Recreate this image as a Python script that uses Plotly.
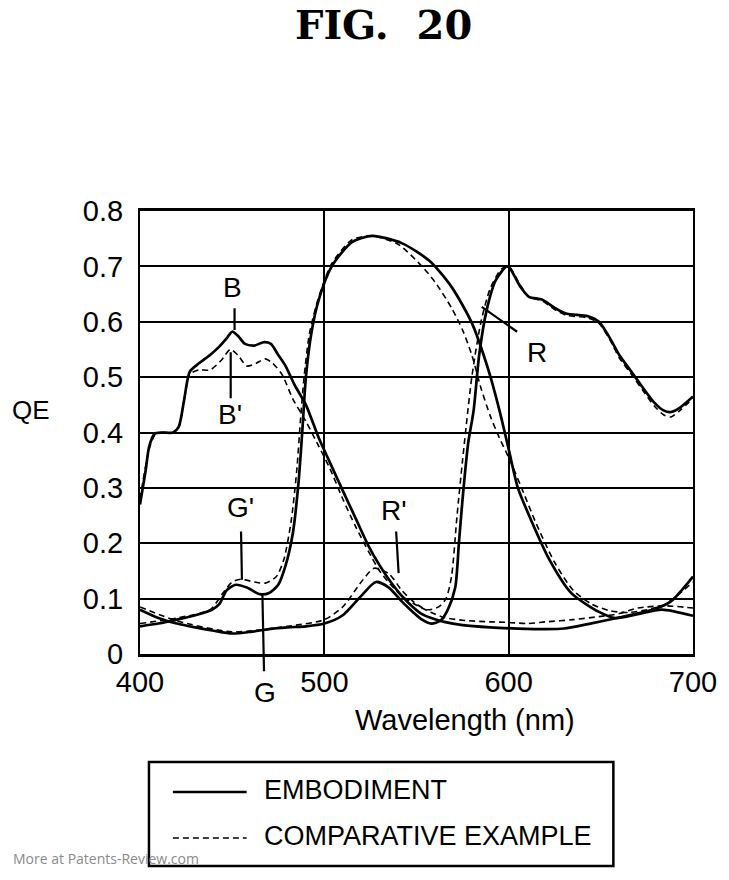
import plotly.graph_objects as go

# ---------------- data ----------------
b_wl = [400, 403, 405, 408, 412, 418, 421, 424, 427, 432, 438, 443, 447, 450, 453, 457, 462, 467, 471, 475, 479, 484, 490, 497, 503, 510, 517, 524, 530, 536, 542, 548, 553, 558, 565, 575, 590, 605, 620, 630, 643, 660, 679, 688, 700]
b_qe = [0.27, 0.33, 0.375, 0.398, 0.40, 0.40, 0.41, 0.46, 0.51, 0.525, 0.54, 0.555, 0.57, 0.582, 0.575, 0.56, 0.557, 0.563, 0.56, 0.54, 0.52, 0.485, 0.45, 0.39, 0.346, 0.295, 0.245, 0.195, 0.16, 0.13, 0.105, 0.085, 0.072, 0.065, 0.058, 0.052, 0.048, 0.046, 0.045, 0.046, 0.054, 0.066, 0.081, 0.095, 0.14]

bc_wl = [400, 405, 408, 412, 418, 421, 424, 427, 432, 438, 444, 449, 453, 458, 463, 468, 472, 477, 483, 490, 497, 503, 510, 517, 524, 530, 536, 542, 550, 558, 565, 575, 590, 600, 610, 620, 635, 650, 660, 670, 685, 700]
bc_qe = [0.28, 0.37, 0.395, 0.40, 0.40, 0.41, 0.46, 0.505, 0.513, 0.513, 0.53, 0.55, 0.54, 0.52, 0.525, 0.533, 0.525, 0.505, 0.46, 0.42, 0.375, 0.335, 0.28, 0.23, 0.185, 0.15, 0.125, 0.105, 0.088, 0.075, 0.066, 0.061, 0.058, 0.057, 0.055, 0.058, 0.062, 0.068, 0.073, 0.083, 0.087, 0.083]

g_wl = [400, 410, 420, 430, 439, 443, 447, 452, 458, 465, 470, 475, 479, 483, 486, 488, 490, 493, 497, 504, 515, 526, 542, 557, 569, 580, 589, 595, 600, 605, 612, 622, 634, 649, 658, 670, 683, 700]
g_qe = [0.05, 0.055, 0.062, 0.07, 0.08, 0.09, 0.115, 0.125, 0.12, 0.108, 0.11, 0.125, 0.16, 0.22, 0.31, 0.40, 0.50, 0.58, 0.64, 0.70, 0.744, 0.755, 0.742, 0.71, 0.663, 0.598, 0.513, 0.44, 0.37, 0.30, 0.243, 0.171, 0.11, 0.076, 0.065, 0.072, 0.08, 0.069]

gc_wl = [400, 420, 438, 445, 450, 455, 462, 468, 474, 478, 482, 485, 487, 489, 492, 497, 504, 515, 526, 540, 553, 560, 569, 575, 580, 585, 590, 595, 600, 607, 615, 625, 635, 645, 655, 665, 675, 685, 700]
gc_qe = [0.055, 0.065, 0.08, 0.11, 0.13, 0.135, 0.13, 0.128, 0.14, 0.17, 0.24, 0.33, 0.42, 0.50, 0.58, 0.645, 0.705, 0.748, 0.755, 0.74, 0.70, 0.672, 0.625, 0.585, 0.54, 0.48, 0.43, 0.39, 0.355, 0.30, 0.235, 0.165, 0.115, 0.09, 0.078, 0.075, 0.08, 0.09, 0.13]

r_wl = [400, 410, 420, 430, 440, 450, 460, 470, 480, 490, 500, 510, 520, 528, 535, 542, 548, 553, 558, 563, 567, 571, 573, 575, 578, 581, 584, 588, 593, 599, 601, 606, 611, 618, 625, 631, 643, 649, 655, 660, 667, 673, 679, 684, 688, 693, 700]
r_qe = [0.080, 0.065, 0.055, 0.048, 0.042, 0.037, 0.040, 0.045, 0.048, 0.050, 0.055, 0.07, 0.105, 0.13, 0.12, 0.095, 0.076, 0.062, 0.055, 0.06, 0.08, 0.12, 0.2, 0.28, 0.38, 0.44, 0.54, 0.62, 0.675, 0.70, 0.695, 0.665, 0.645, 0.64, 0.625, 0.615, 0.61, 0.60, 0.57, 0.54, 0.508, 0.48, 0.454, 0.44, 0.437, 0.445, 0.465]

rc_wl = [400, 420, 450, 480, 500, 510, 520, 527, 535, 542, 550, 556, 562, 566, 569, 572, 575, 580, 585, 590, 596, 600, 606, 611, 618, 625, 631, 643, 649, 655, 660, 667, 673, 679, 684, 688, 693, 700]
rc_qe = [0.085, 0.06, 0.04, 0.05, 0.062, 0.085, 0.13, 0.155, 0.145, 0.115, 0.09, 0.08, 0.085, 0.10, 0.14, 0.25, 0.35, 0.50, 0.60, 0.66, 0.695, 0.70, 0.668, 0.645, 0.638, 0.622, 0.612, 0.607, 0.597, 0.567, 0.535, 0.503, 0.475, 0.448, 0.432, 0.428, 0.44, 0.462]

x_ticks = [400, 500, 600, 700]
y_ticks = [0, 0.1, 0.2, 0.3, 0.4, 0.5, 0.6, 0.7, 0.8]
y_tick_text = ["0", "0.1", "0.2", "0.3", "0.4", "0.5", "0.6", "0.7", "0.8"]

legend_names = ["EMBODIMENT", "COMPARATIVE EXAMPLE"]

# curve labels: (text, x, y, pointer start x, y, pointer end x, y)
curve_labels = [
    ("B", 450.3, 0.661, 451.3, 0.627, 451.3, 0.585),
    ("B'", 448.6, 0.432, 449.2, 0.459, 449.2, 0.545),
    ("G'", 454.6, 0.264, 454.8, 0.224, 455.3, 0.134),
    ("G", 467.6, -0.069, 467.3, -0.034, 466.4, 0.107),
    ("R'", 537.8, 0.260, 538.9, 0.224, 540.3, 0.146),
    ("R", 615.1, 0.545, 605.4, 0.580, 585.4, 0.627),
]

# ---------------- figure ----------------
SANS = "Liberation Sans, Arial, Helvetica, sans-serif"
BLACK = "#000000"

fig = go.Figure()

solid_sets = [(b_wl, b_qe), (g_wl, g_qe), (r_wl, r_qe)]
dash_sets = [(bc_wl, bc_qe), (gc_wl, gc_qe), (rc_wl, rc_qe)]

for xs, ys in dash_sets:
    fig.add_trace(go.Scatter(
        x=xs, y=ys, mode="lines", name=legend_names[1],
        legendgroup="c", showlegend=False,
        line=dict(color=BLACK, width=1.6, dash="6px,4px", shape="spline", smoothing=0.7),
    ))
for xs, ys in solid_sets:
    fig.add_trace(go.Scatter(
        x=xs, y=ys, mode="lines", name=legend_names[0],
        legendgroup="e", showlegend=False,
        line=dict(color=BLACK, width=2.7, shape="spline", smoothing=0.7),
    ))

fig.update_layout(
    width=729, height=880,
    margin=dict(l=140, r=34, t=211, b=226),
    paper_bgcolor="white", plot_bgcolor="white",
    showlegend=False,
    font=dict(family=SANS, color=BLACK),
)

fig.update_xaxes(
    range=[400, 700], tickvals=x_ticks, ticktext=[str(v) for v in x_ticks],
    showgrid=True, gridcolor=BLACK, gridwidth=1.5,
    showline=True, linecolor=BLACK, linewidth=2.5, mirror=True,
    ticks="", zeroline=False,
    tickfont=dict(family=SANS, size=29, color=BLACK),
    ticklabelstandoff=0,
)
fig.update_yaxes(
    range=[0, 0.8], tickvals=y_ticks, ticktext=y_tick_text,
    showgrid=True, gridcolor=BLACK, gridwidth=1.5,
    showline=True, linecolor=BLACK, linewidth=2, mirror=True,
    ticks="", zeroline=False,
    tickfont=dict(family=SANS, size=29, color=BLACK),
    ticklabelstandoff=9,
)

# title
fig.add_annotation(
    text="FIG.\u00a0\u00a020", xref="paper", yref="paper", x=0.44, y=1.42,
    xanchor="center", yanchor="middle", showarrow=False,
    font=dict(family="DejaVu Serif, Liberation Serif, serif", size=40, color=BLACK, weight="bold"),
)
# axis titles
fig.add_annotation(
    text="QE", xref="paper", yref="paper", x=-0.198, y=0.551,
    xanchor="center", yanchor="middle", showarrow=False,
    font=dict(family=SANS, size=26, color=BLACK),
)
fig.add_annotation(
    text="Wavelength (nm)", xref="paper", yref="paper", x=0.587, y=-0.150,
    xanchor="center", yanchor="middle", showarrow=False,
    font=dict(family=SANS, size=29, color=BLACK),
)

# curve labels + pointer lines
for txt, lx, ly, sx, sy, ex, ey in curve_labels:
    if ly < 0:
        # label sits below the plotting area: place in paper coordinates
        fig.add_annotation(
            text=txt, xref="paper", yref="paper",
            x=(lx - 400) / 300, y=ly / 0.8, showarrow=False,
            xanchor="center", yanchor="middle",
            font=dict(family=SANS, size=28, color=BLACK),
        )
    else:
        fig.add_annotation(
            text=txt, x=lx, y=ly, xref="x", yref="y", showarrow=False,
            xanchor="center", yanchor="middle",
            font=dict(family=SANS, size=28, color=BLACK),
        )
    fig.add_annotation(
        text="", x=ex, y=ey, ax=sx, ay=sy, xref="x", yref="y",
        axref="x", ayref="y", showarrow=True, arrowhead=0,
        arrowwidth=2.2, arrowcolor=BLACK, standoff=0, startstandoff=0,
    )

# manual legend box (paper coordinates)
fig.add_shape(type="rect", xref="paper", yref="paper",
              x0=0.0162, x1=0.856, y0=-0.4786, y1=-0.2438,
              line=dict(color=BLACK, width=2.5), fillcolor="rgba(0,0,0,0)")
fig.add_shape(type="line", xref="paper", yref="paper",
              x0=0.0595, x1=0.1928, y0=-0.3115, y1=-0.3115,
              line=dict(color=BLACK, width=2.7))
fig.add_shape(type="line", xref="paper", yref="paper",
              x0=0.0595, x1=0.1928, y0=-0.4153, y1=-0.4153,
              line=dict(color=BLACK, width=1.6, dash="6px,4px"))
fig.add_annotation(text=legend_names[0], xref="paper", yref="paper",
                   x=0.2198, y=-0.307, xanchor="left", yanchor="middle",
                   showarrow=False, font=dict(family=SANS, size=27, color=BLACK))
fig.add_annotation(text=legend_names[1], xref="paper", yref="paper",
                   x=0.2198, y=-0.411, xanchor="left", yanchor="middle",
                   showarrow=False, font=dict(family=SANS, size=27, color=BLACK))

# watermark
fig.add_annotation(text="More at Patents-Review.com", xref="paper", yref="paper",
                   x=-0.234, y=-0.4605, xanchor="left", yanchor="middle",
                   showarrow=False, font=dict(family="Open Sans, DejaVu Sans, sans-serif", size=14, color="#8a8a8a"))

fig.write_html("out.html")
